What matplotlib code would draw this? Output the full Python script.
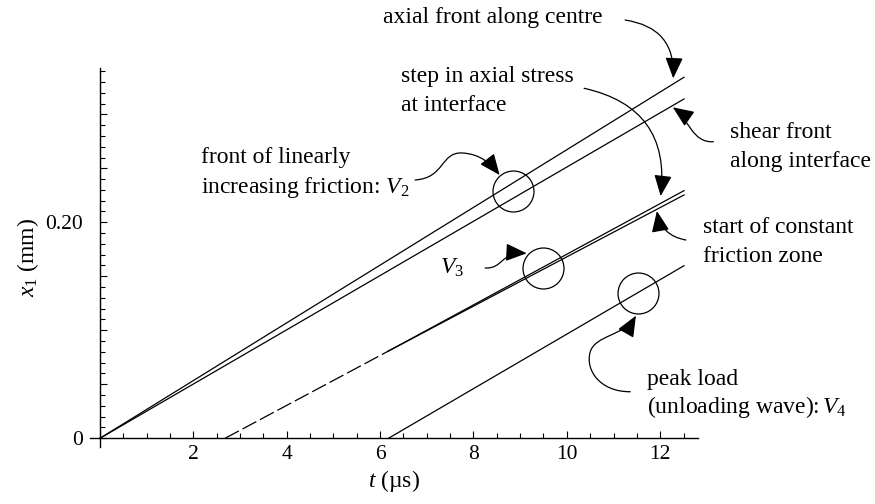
import matplotlib
matplotlib.use("Agg")
import matplotlib.pyplot as plt
from matplotlib.patches import FancyArrowPatch
from matplotlib.path import Path
from matplotlib.ticker import MultipleLocator, FixedFormatter, FixedLocator

plt.rcParams["font.family"] = ["Liberation Serif", "DejaVu Serif"]
plt.rcParams["mathtext.fontset"] = "custom"
plt.rcParams["mathtext.rm"] = "Liberation Serif"
plt.rcParams["mathtext.it"] = "Liberation Serif:italic"

# wave fronts, t in microseconds, x1 in mm
front_t = [0.0, 12.51]
axial_x1 = [0.0, 0.3343]
shear_x1 = [0.0, 0.3142]

dashed_t = [2.68, 6.18]
dashed_x1 = [0.0, 0.0808]

step_t = [6.18, 12.51]
step_x1 = [0.0808, 0.2293]
const_x1 = [0.0808, 0.2253]

unload_t = [6.18, 12.51]
unload_x1 = [0.0, 0.1598]

# circled points marking V2, V3, V4
circle_t = [8.85, 9.50, 11.52]
circle_x1 = [0.2292, 0.1574, 0.1343]

x_ticks = [0, 2, 4, 6, 8, 10, 12]
x_labels = ["", "2", "4", "6", "8", "10", "12"]

FS = 17
TICK_FS = 15.5
LW = 0.9
HEAD = "-|>,head_length=1.3,head_width=0.55"

fig = plt.figure(figsize=(8.75, 5.04), dpi=100)
ax = fig.add_axes([0.10286, 0.11369, 0.69486, 0.75079])

ax.plot(front_t, axial_x1, color="black", lw=LW)
ax.plot(front_t, shear_x1, color="black", lw=LW)
ax.plot(dashed_t, dashed_x1, color="black", lw=LW, linestyle=(0, (12.5, 3.3)))
ax.plot(step_t, step_x1, color="black", lw=LW)
ax.plot(step_t, const_x1, color="black", lw=LW)
ax.plot(unload_t, unload_x1, color="black", lw=LW)
ax.plot(circle_t, circle_x1, linestyle="none", marker="o", markersize=29.5,
        mfc="none", mec="black", mew=LW)

# labels
txt = dict(fontsize=FS, ha="left", va="baseline", color="black", clip_on=False)
ax.text(6.06, 0.3849, "axial front along centre", **txt)
ax.text(6.44, 0.3302, "step in axial stress", **txt)
ax.text(6.44, 0.3031, "at interface", **txt)
ax.text(13.50, 0.2778, "shear front", **txt)
ax.text(13.50, 0.2509, "along interface", **txt)
ax.text(12.91, 0.1898, "start of constant", **txt)
ax.text(12.91, 0.1635, "friction zone", **txt)
ax.text(2.16, 0.2546, "front of linearly", **txt)
ax.text(2.16, 0.2269, "increasing friction: $V_2$", **txt)
ax.text(7.29, 0.1528, "$V_3$", **txt)
ax.text(11.71, 0.0494, "peak load", **txt)
ax.text(11.71, 0.0231, "(unloading wave):$\\,V_4$", **txt)

# simple curved arrows
arc = dict(arrowstyle=HEAD, shrinkA=0, shrinkB=0, lw=LW, color="black",
           mutation_scale=10)
ax.annotate("", xy=(12.28, 0.3333), xytext=(11.25, 0.3873),
            arrowprops=dict(connectionstyle="arc3,rad=-0.45", **arc),
            annotation_clip=False)
ax.annotate("", xy=(12.01, 0.2243), xytext=(10.37, 0.3241),
            arrowprops=dict(connectionstyle="arc3,rad=-0.45", **arc),
            annotation_clip=False)
ax.annotate("", xy=(11.93, 0.2105), xytext=(12.55, 0.1836),
            arrowprops=dict(connectionstyle="arc3,rad=-0.35", **arc),
            annotation_clip=False)

# wavy arrows as bezier paths
C4 = Path.CURVE4
wavy = [
    # shear front
    ([(13.14, 0.2746), (12.68, 0.2734), (12.60, 0.2966), (12.27, 0.3065)],
     [Path.MOVETO, C4, C4, C4]),
    # V2
    ([(6.75, 0.2392), (7.39, 0.2410), (7.29, 0.2651), (7.76, 0.2642),
      (8.14, 0.2632), (8.36, 0.2549), (8.56, 0.2438)],
     [Path.MOVETO, C4, C4, C4, C4, C4, C4]),
    # V3
    ([(8.25, 0.1577), (8.64, 0.1568), (8.57, 0.1725), (9.14, 0.1713)],
     [Path.MOVETO, C4, C4, C4]),
    # V4
    ([(11.36, 0.0431), (10.71, 0.0429), (10.39, 0.0632), (10.50, 0.0799),
      (10.61, 0.0957), (11.23, 0.0947), (11.48, 0.1135)],
     [Path.MOVETO, C4, C4, C4, C4, C4, C4]),
]
for verts, codes in wavy:
    p = FancyArrowPatch(path=Path(verts, codes), arrowstyle=HEAD,
                        mutation_scale=10, lw=LW, color="black",
                        transform=ax.transData, clip_on=False)
    ax.add_patch(p)

# axes
ax.spines["top"].set_visible(False)
ax.spines["right"].set_visible(False)
ax.spines["left"].set_position(("data", 0))
ax.spines["bottom"].set_position(("data", 0))
ax.spines["left"].set_linewidth(1.0)
ax.spines["bottom"].set_linewidth(1.0)

ax.set_xlim(-0.214, 12.81)
ax.set_ylim(-0.0078, 0.3426)

ax.xaxis.set_major_locator(FixedLocator(x_ticks))
ax.xaxis.set_major_formatter(FixedFormatter(x_labels))
ax.xaxis.set_minor_locator(MultipleLocator(0.5))
ax.yaxis.set_major_locator(MultipleLocator(0.05))
ax.yaxis.set_major_formatter(plt.FuncFormatter(
    lambda v, p: "0" if abs(v) < 1e-9 else ("0.20" if abs(v - 0.2) < 1e-9 else "")))
ax.yaxis.set_minor_locator(MultipleLocator(0.01))

ax.tick_params(which="both", direction="in", width=0.8, labelsize=TICK_FS)
ax.tick_params(which="major", length=5)
ax.tick_params(which="minor", length=3.5)
ax.tick_params(axis="x", pad=5)
ax.tick_params(axis="y", pad=12)

ax.set_xlabel("$t$ (µs)", fontsize=FS, labelpad=3)
ax.set_ylabel("$x_1$ (mm)", fontsize=FS, labelpad=3)

fig.savefig("out.png", dpi=100)
plt.close(fig)
